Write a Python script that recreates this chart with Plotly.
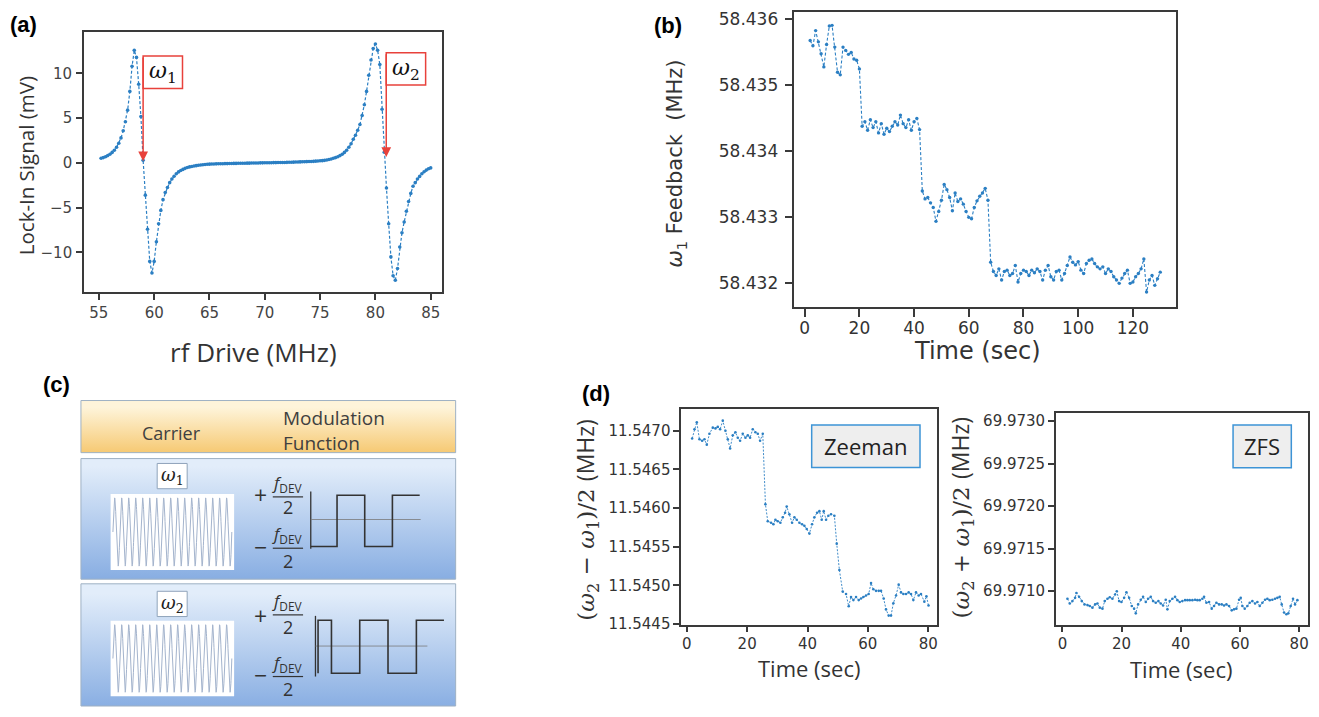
import numpy as np
import plotly.graph_objects as go

W, H = 1319, 717

# ---------------- data ----------------
# (a) lock-in signal vs rf drive, sampled every 0.2 MHz starting at 55.2 MHz
rf_start, rf_step = 55.2, 0.2
lockin_mv = [
    0.52, 0.60, 0.70, 0.82, 0.98, 1.18, 1.42, 1.75, 2.20, 2.80,            # 55.2
    3.60, 4.60, 5.90, 8.00, 10.80, 12.60, 11.80, 8.80, 5.20, 0.30,         # 57.2
    -3.60, -7.40, -11.00, -12.30, -11.00, -8.80, -6.80, -5.30, -4.10, -3.30,  # 59.2
    -2.75, -2.20, -1.80, -1.48, -1.20, -1.00, -0.85, -0.72, -0.60, -0.50,  # 61.2
    -0.44, -0.39, -0.34, -0.30, -0.26, -0.23, -0.20, -0.17, -0.15, -0.13,  # 63.2
    -0.12, -0.11, -0.10, -0.09, -0.08, -0.08, -0.07, -0.07, -0.06, -0.06,  # 65.2
    -0.05, -0.05, -0.04, -0.04, -0.03, -0.03, -0.02, -0.02, -0.01, -0.01,  # 67.2
    0.00, 0.00, 0.01, 0.01, 0.02, 0.02, 0.03, 0.03, 0.04, 0.04,            # 69.2
    0.05, 0.05, 0.06, 0.06, 0.07, 0.08, 0.08, 0.09, 0.10, 0.11,            # 71.2
    0.12, 0.13, 0.14, 0.15, 0.16, 0.17, 0.18, 0.20, 0.22, 0.24,            # 73.2
    0.26, 0.29, 0.33, 0.38, 0.45, 0.52, 0.60, 0.70, 0.82, 0.98,            # 75.2
    1.18, 1.42, 1.75, 2.15, 2.65, 3.10, 3.65, 4.30, 5.30, 6.50,            # 77.2
    8.00, 9.80, 11.50, 12.80, 13.30, 12.60, 11.00, 6.00, 1.20, -2.80,      # 79.2
    -6.80, -10.50, -12.60, -13.10, -11.80, -9.40, -7.80, -6.60, -5.40, -4.30,  # 81.2
    -3.40, -2.60, -2.20, -1.80, -1.50, -1.20, -0.98, -0.80, -0.65, -0.55,  # 83.2
]
rf_drive_mhz = [round(rf_start + rf_step * i, 2) for i in range(len(lockin_mv))]
omega1_marker_mhz, omega2_marker_mhz = 59.0, 80.98

# (b) omega_1 feedback vs time (1 s samples)
feedback_time_s = list(range(2, 131))
omega1_feedback_mhz = [
    58.43568, 58.43560, 58.43583, 58.43566, 58.43548, 58.43528, 58.43562, 58.43590, 58.43591, 58.43558,
    58.43520, 58.43516, 58.43558, 58.43553, 58.43547, 58.43550, 58.43540, 58.43538, 58.43525, 58.43438,
    58.43445, 58.43432, 58.43448, 58.43436, 58.43445, 58.43428, 58.43442, 58.43426, 58.43435, 58.43430,
    58.43438, 58.43445, 58.43440, 58.43455, 58.43442, 58.43436, 58.43448, 58.43432, 58.43445, 58.43450,
    58.43433, 58.43340, 58.43328, 58.43330, 58.43322, 58.43315, 58.43294, 58.43309, 58.43326, 58.43350,
    58.43342, 58.43330, 58.43310, 58.43337, 58.43324, 58.43328, 58.43320, 58.43309, 58.43300, 58.43298,
    58.43315, 58.43325, 58.43332, 58.43337, 58.43344, 58.43326, 58.43232, 58.43218, 58.43212, 58.43222,
    58.43205, 58.43218, 58.43220, 58.43212, 58.43215, 58.43227, 58.43202, 58.43215, 58.43220, 58.43218,
    58.43212, 58.43220, 58.43216, 58.43222, 58.43218, 58.43205, 58.43220, 58.43227, 58.43210, 58.43205,
    58.43218, 58.43220, 58.43205, 58.43215, 58.43227, 58.43240, 58.43232, 58.43228, 58.43233, 58.43220,
    58.43215, 58.43230, 58.43235, 58.43237, 58.43230, 58.43225, 58.43222, 58.43225, 58.43215, 58.43222,
    58.43218, 58.43210, 58.43205, 58.43200, 58.43208, 58.43215, 58.43220, 58.43200, 58.43202, 58.43210,
    58.43215, 58.43222, 58.43237, 58.43187, 58.43205, 58.43212, 58.43197, 58.43207, 58.43217,
]

# (d) Zeeman: (omega2 - omega1)/2
zeeman_time_s = [
    1.78, 2.55, 3.32, 4.20, 5.09, 5.86, 6.63, 7.51, 8.62, 9.50,
    10.27, 11.05, 11.93, 12.81, 13.59, 14.36, 15.24, 16.12, 16.90, 17.67,
    18.55, 19.44, 20.21, 20.98, 21.86, 22.75, 23.52, 24.29, 25.18, 26.06,
    26.83, 27.93, 28.71, 29.37, 30.14, 31.02, 31.80, 32.57, 33.12, 34.00,
    34.89, 35.66, 36.43, 37.32, 38.20, 38.97, 39.74, 40.63, 41.51, 42.28,
    43.17, 43.94, 44.71, 45.37, 46.15, 46.92, 47.80, 48.91, 49.68, 50.56,
    51.67, 52.77, 53.65, 54.42, 55.20, 56.08, 56.96, 57.73, 58.51, 59.39,
    60.27, 61.05, 61.82, 62.70, 63.59, 64.36, 65.24, 66.01, 66.90, 67.67,
    68.44, 69.33, 70.21, 70.98, 71.75, 72.64, 73.52, 74.29, 75.07, 75.95,
    76.83, 77.60, 78.71, 79.40, 80.10,
]
zeeman_mhz = [
    11.54690, 11.54702, 11.54711, 11.54689, 11.54687, 11.54689, 11.54682, 11.54696, 11.54704, 11.54703,
    11.54705, 11.54702, 11.54713, 11.54700, 11.54689, 11.54677, 11.54694, 11.54698, 11.54691, 11.54687,
    11.54696, 11.54691, 11.54694, 11.54691, 11.54702, 11.54698, 11.54696, 11.54687, 11.54696, 11.54605,
    11.54583, 11.54581, 11.54579, 11.54585, 11.54583, 11.54581, 11.54588, 11.54594, 11.54602, 11.54592,
    11.54581, 11.54588, 11.54585, 11.54581, 11.54579, 11.54577, 11.54573, 11.54567, 11.54579, 11.54588,
    11.54594, 11.54596, 11.54585, 11.54596, 11.54585, 11.54590, 11.54592, 11.54590, 11.54554, 11.54520,
    11.54492, 11.54489, 11.54473, 11.54485, 11.54481, 11.54485, 11.54481, 11.54483, 11.54485, 11.54487,
    11.54489, 11.54503, 11.54495, 11.54493, 11.54493, 11.54493, 11.54483, 11.54469, 11.54461, 11.54461,
    11.54477, 11.54487, 11.54501, 11.54491, 11.54489, 11.54489, 11.54491, 11.54489, 11.54481, 11.54491,
    11.54487, 11.54489, 11.54479, 11.54486, 11.54474,
]

# (d) ZFS: (omega2 + omega1)/2
zfs_time_s = [
    1.70, 2.49, 3.39, 4.29, 4.74, 5.64, 6.54, 7.45, 8.46, 9.25,
    10.15, 11.05, 11.84, 12.63, 13.53, 14.31, 15.22, 16.00, 16.90, 17.80,
    18.37, 19.16, 19.95, 20.85, 21.63, 22.54, 23.44, 24.22, 24.79, 25.58,
    26.48, 27.27, 28.17, 28.95, 29.86, 30.64, 31.54, 32.45, 33.23, 34.02,
    34.92, 35.49, 36.27, 37.17, 38.08, 38.86, 39.65, 40.55, 41.45, 42.24,
    43.03, 43.93, 44.83, 45.62, 46.41, 47.31, 47.87, 48.66, 49.56, 50.46,
    51.25, 52.04, 52.94, 53.84, 54.63, 55.42, 56.32, 57.22, 58.01, 58.80,
    59.70, 60.26, 60.82, 61.61, 62.51, 63.30, 64.20, 65.10, 65.89, 66.68,
    67.58, 68.48, 69.27, 70.06, 70.96, 71.86, 72.65, 73.44, 74.11, 74.90,
    75.69, 76.36, 77.15, 77.94, 78.62, 79.41,
]
zfs_mhz = [
    69.970911, 69.970856, 69.970884, 69.970922, 69.970980, 69.970934, 69.970884, 69.970845, 69.970837, 69.970826,
    69.970807, 69.970845, 69.970856, 69.970807, 69.970795, 69.970884, 69.970911, 69.970930, 69.970911, 69.970961,
    69.971000, 69.970884, 69.970873, 69.970922, 69.970988, 69.970922, 69.970826, 69.970795, 69.970740, 69.970845,
    69.970900, 69.970934, 69.970873, 69.970911, 69.970934, 69.970884, 69.970865, 69.970884, 69.970856, 69.970833,
    69.970900, 69.970787, 69.970884, 69.970911, 69.970934, 69.970895, 69.970873, 69.970884, 69.970895, 69.970895,
    69.970895, 69.970895, 69.970900, 69.970895, 69.970895, 69.970911, 69.970934, 69.970865, 69.970873, 69.970795,
    69.970826, 69.970865, 69.970845, 69.970845, 69.970833, 69.970845, 69.970826, 69.970775, 69.970787, 69.970795,
    69.970900, 69.970922, 69.970826, 69.970795, 69.970826, 69.970865, 69.970884, 69.970856, 69.970873, 69.970826,
    69.970865, 69.970900, 69.970911, 69.970895, 69.970900, 69.970911, 69.970922, 69.970934, 69.970845, 69.970749,
    69.970730, 69.970740, 69.970826, 69.970911, 69.970845, 69.970895,
]

# tick values
ticks_a_x = [55, 60, 65, 70, 75, 80, 85]
ticks_a_y = [-10, -5, 0, 5, 10]
ticks_b_x = [0, 20, 40, 60, 80, 100, 120]
ticks_b_y = [58.432, 58.433, 58.434, 58.435, 58.436]
ticks_d_x = [0, 20, 40, 60, 80]
ticks_zeeman_y = [11.5445, 11.5450, 11.5455, 11.5460, 11.5465, 11.5470]
ticks_zfs_y = [69.9710, 69.9715, 69.9720, 69.9725, 69.9730]

# (c) schematic: square-wave modulation functions (diagram units = px)
sq1_x = [311, 337.3, 337.3, 365, 365, 392.7, 392.7, 420]
sq1_y = [552.7, 552.7, 500.7, 500.7, 552.7, 552.7, 500.7, 500.7]
sq2_x = [318.3, 318.3, 331.7, 331.7, 360, 360, 388.3, 388.3, 416.7, 416.7, 444.3]
sq2_y = [681.7, 627.7, 627.7, 681.7, 681.7, 627.7, 627.7, 681.7, 681.7, 627.7, 627.7]
carrier_cycles = 17

# ---------------- figure ----------------
BLUE = '#2b7fc3'
RED = '#e8413b'
AX = '#3a3a3a'

fig = go.Figure()


def dx(a, b):
    return [a / W, b / W]


def dy(a, b):
    return [1 - b / H, 1 - a / H]


def ax_style(size, ticklen=6, color='#333', standoff=0):
    return dict(showline=True, mirror=True, linecolor=AX, linewidth=1.5,
                ticks='outside', ticklen=ticklen, tickwidth=1.5, tickcolor=AX,
                showgrid=False, zeroline=False, fixedrange=True, ticklabelstandoff=standoff,
                tickfont=dict(family='DejaVu Sans', size=size, color=color))


def series(x, y, xa, ya, width=1.1, msize=3.2, dash='3px,2px'):
    fig.add_trace(go.Scatter(x=x, y=y, mode='lines+markers', xaxis=xa, yaxis=ya,
                             line=dict(color=BLUE, width=width, dash=dash),
                             marker=dict(color=BLUE, size=msize),
                             showlegend=False, hoverinfo='skip'))


series(rf_drive_mhz, lockin_mv, 'x', 'y', width=1.2, msize=3.6)
series(feedback_time_s, omega1_feedback_mhz, 'x2', 'y2', width=1.1, msize=3.4)
series(zeeman_time_s, zeeman_mhz, 'x4', 'y4', width=0.9, msize=2.6, dash='2px,1.5px')
series(zfs_time_s, zfs_mhz, 'x5', 'y5', width=0.9, msize=2.6, dash='2px,1.5px')


# ----- (c) schematic on a pixel-unit overlay axis -----
def grad_rect(x0, x1, y0, y1, ctop, cbot, line='#9fb1c4'):
    fig.add_trace(go.Scatter(x=[x0, x1, x1, x0, x0], y=[y0, y0, y1, y1, y0],
                             mode='lines', fill='toself', xaxis='x3', yaxis='y3',
                             fillgradient=dict(type='vertical', start=y0, stop=y1,
                                               colorscale=[[0, ctop], [1, cbot]]),
                             line=dict(color=line, width=1), showlegend=False, hoverinfo='skip'))


def plain_rect(x0, x1, y0, y1, fill='white', line='rgba(0,0,0,0)', lw=1):
    fig.add_trace(go.Scatter(x=[x0, x1, x1, x0, x0], y=[y0, y0, y1, y1, y0],
                             mode='lines', fill='toself', fillcolor=fill, xaxis='x3', yaxis='y3',
                             line=dict(color=line, width=lw), showlegend=False, hoverinfo='skip'))


def poly(x, y, color='#333', width=1.5):
    fig.add_trace(go.Scatter(x=x, y=y, mode='lines', xaxis='x3', yaxis='y3',
                             line=dict(color=color, width=width), showlegend=False, hoverinfo='skip'))


grad_rect(81, 456, 404.3, 457.3, '#fef4da', '#f5c262')
grad_rect(81, 456, 463.3, 586, '#e2edfa', '#80a8e0')
grad_rect(81, 456, 590.7, 715, '#e2edfa', '#80a8e0')

for (by0, by1, ly0, ly1) in [(499.3, 576.7, 468.3, 494), (628.3, 705, 598.3, 624)]:
    plain_rect(110.7, 234.3, by0, by1)
    plain_rect(157.3, 187.3, ly0, ly1, line='#8fa3ba')
    tt = np.linspace(0, 1, 900)
    cx = 113 + tt * 119
    cy = (by0 + by1) / 2 - (by1 - by0 - 8) / 2 * np.sin(2 * np.pi * carrier_cycles * tt)
    poly(cx, cy, color='#a4b4cd', width=1)

# axes and centre lines of modulation plots
poly([311, 311], [496.7, 555], '#333', 1.3)
poly([311, 421], [525.3, 525.3], '#7a7a7a', 0.8)
poly(sq1_x, sq1_y, '#333', 1.6)
poly([315.7, 315.7], [623.3, 685], '#333', 1.3)
poly([315.7, 427.7], [654, 654], '#7a7a7a', 0.8)
poly(sq2_x, sq2_y, '#333', 1.6)
# fraction bars
for yb in [502.3, 554.5, 622.3, 685]:
    poly([273, 303.3], [yb, yb], '#333', 1.2)

layout_axes = dict(
    xaxis=dict(domain=dx(84, 442), range=[53.65, 85.99], tickvals=ticks_a_x, anchor='y',
               **ax_style(15, 6, '#444')),
    yaxis=dict(domain=dy(30, 294), range=[-14.43, 14.58], tickvals=ticks_a_y, anchor='x',
               **ax_style(15, 6, '#444', 1)),
    xaxis2=dict(domain=dx(795, 1177), range=[-3.77, 135.8], tickvals=ticks_b_x, anchor='y2',
                **ax_style(17, 8, standoff=-3)),
    yaxis2=dict(domain=dy(9.3, 309.3), range=[58.43164, 58.43611], tickvals=ticks_b_y,
                tickformat='.3f', anchor='x2', **ax_style(17, 8, standoff=3)),
    xaxis3=dict(domain=[0, 1], range=[0, W], visible=False, fixedrange=True, anchor='y3'),
    yaxis3=dict(domain=[0, 1], range=[H, 0], visible=False, fixedrange=True, anchor='x3'),
    xaxis4=dict(domain=dx(681.7, 937.7), range=[-1.85, 82.9], tickvals=ticks_d_x, anchor='y4',
                **ax_style(15, 6, standoff=-1)),
    yaxis4=dict(domain=dy(413.3, 632.3), range=[11.544492, 11.547276], tickvals=ticks_zeeman_y,
                tickformat='.4f', anchor='x4', **ax_style(15, 6)),
    xaxis5=dict(domain=dx(1056.7, 1309.3), range=[-2.2, 83.1], tickvals=ticks_d_x, anchor='y5',
                **ax_style(15, 6, standoff=-1)),
    yaxis5=dict(domain=dy(416.7, 632.3), range=[69.970606, 69.9731], tickvals=ticks_zfs_y,
                tickformat='.4f', anchor='x5', **ax_style(15, 6)),
)

shapes = [
    dict(type='rect', xref='x', yref='y', x0=omega1_marker_mhz, x1=62.56, y0=8.32, y1=11.95,
         line=dict(color=RED, width=1.5)),
    dict(type='rect', xref='x', yref='y', x0=omega2_marker_mhz, x1=84.54, y0=8.72, y1=12.31,
         line=dict(color=RED, width=1.5)),
    dict(type='rect', xref='x3', yref='y3', x0=812.3, x1=920.7, y0=429.3, y1=472.3,
         fillcolor='#eeeeee', line=dict(color='#3d94d6', width=1.5)),
    dict(type='rect', xref='x3', yref='y3', x0=1234, x1=1292.3, y0=429.3, y1=472.7,
         fillcolor='#eeeeee', line=dict(color='#3d94d6', width=1.5)),
]

annotations = []


def ann(x, y, text, size, family='Open Sans', color='#333', angle=0, xanchor='center', **kw):
    annotations.append(dict(x=x, y=y, xref='x3', yref='y3', text=text, showarrow=False,
                            font=dict(family=family, size=size, color=color), textangle=angle,
                            xanchor=xanchor, yanchor='middle', **kw))


# arrows in (a)
annotations.append(dict(x=omega1_marker_mhz, y=0.2, ax=omega1_marker_mhz, ay=11.95, xref='x', yref='y',
                        axref='x', ayref='y', text='', showarrow=True, arrowhead=2, arrowsize=1.3,
                        arrowwidth=1.5, arrowcolor=RED, standoff=0))
annotations.append(dict(x=omega2_marker_mhz, y=0.66, ax=omega2_marker_mhz, ay=12.31, xref='x', yref='y',
                        axref='x', ayref='y', text='', showarrow=True, arrowhead=2, arrowsize=1.3,
                        arrowwidth=1.5, arrowcolor=RED, standoff=0))
annotations.append(dict(x=60.8, y=10.1, xref='x', yref='y', text='<i>ω</i><sub>1</sub>', showarrow=False,
                        font=dict(family='DejaVu Serif', size=22, color='#111')))
annotations.append(dict(x=82.76, y=10.5, xref='x', yref='y', text='<i>ω</i><sub>2</sub>', showarrow=False,
                        font=dict(family='DejaVu Serif', size=22, color='#111')))

# panel labels
for lbl, x, y in [('(a)', 24, 22), ('(b)', 669, 23), ('(c)', 57, 388), ('(d)', 596, 397)]:
    ann(x, y, '<b>%s</b>' % lbl, 22, family='Liberation Sans', color='#000')

# axis titles
ann(26, 165, 'Lock-In Signal (mV)', 20.5, angle=-90)
ann(254, 355, 'rf Drive (MHz)', 26)
ann(677, 163, '<i>ω</i><sub>1</sub> Feedback\u00a0\u00a0(MHz)', 21, family='DejaVu Sans', angle=-90)
ann(978, 354, 'Time (sec)', 24, family='DejaVu Sans')
ann(810, 676, 'Time (sec)', 22)
ann(1182, 677, 'Time (sec)', 22)
ann(587, 526, '(<i>ω</i><sub>2</sub> − <i>ω</i><sub>1</sub>)/2 <span style="font-family:Open Sans">(MHz)</span>',
    23, family='DejaVu Serif', angle=-90)
ann(962, 523, '(<i>ω</i><sub>2</sub> + <i>ω</i><sub>1</sub>)/2 <span style="font-family:Open Sans">(MHz)</span>',
    23, family='DejaVu Serif', angle=-90)
ann(866.5, 450.8, 'Zeeman', 22, color='#222')
ann(1263.2, 451, 'ZFS', 22, color='#222')

# (c) texts
ann(171.7, 437, 'Carrier', 18, color='#404040')
ann(281.7, 435, 'Modulation<br>Function', 19, color='#404040', xanchor='left', align='left')
ann(172.3, 481.5, '<i>ω</i><sub>1</sub>', 18, family='DejaVu Serif', color='#222')
ann(172.3, 611.3, '<i>ω</i><sub>2</sub>', 18, family='DejaVu Serif', color='#222')
for (yp, ym) in [(500, 553.3), (623.3, 683.3)]:
    ann(261, yp, '+', 23, color='#333')
    ann(261, ym, '−', 23, color='#333')
for (ynum, y2) in [(489, 512.5), (541, 567.5), (609, 634.5), (672, 697.5)]:
    ann(288, ynum, '<i>f</i><sub>DEV</sub>', 17, color='#333')
    ann(288, y2, '2', 18, color='#333')

fig.update_layout(width=W, height=H, margin=dict(l=0, r=0, t=0, b=0),
                  paper_bgcolor='white', plot_bgcolor='rgba(0,0,0,0)',
                  shapes=shapes, annotations=annotations, showlegend=False, **layout_axes)

fig.write_html('out.html', config={'displayModeBar': False},
               post_script="document.body.style.margin='0px';")
